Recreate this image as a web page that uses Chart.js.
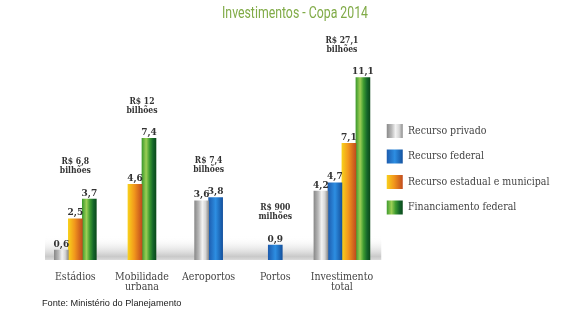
<!DOCTYPE html>
<html>
<head>
<meta charset="utf-8">
<script src="https://cdn.jsdelivr.net/npm/chart.js@4.4.1/dist/chart.umd.min.js"></script>
<style>
  body { margin: 0; background: #fff; }
  #wrap { width: 568px; height: 323px; position: relative; }
</style>
</head>
<body>
<div id="wrap"><canvas id="copaChart"></canvas></div>
<script>
// valores em R$ bilhões (Portos: R$ 900 milhões)
var categories = ['Estádios', ['Mobilidade', 'urbana'], 'Aeroportos', 'Portos', ['Investimento', 'total']];
var recursoPrivado = [0.6, null, 3.6, null, 4.2];
var recursoFederal = [null, null, 3.8, 0.9, 4.7];
var recursoEstadual = [2.5, 4.6, null, null, 7.1];
var financiamentoFederal = [3.7, 7.4, null, null, 11.1];
var seriesNames = ['Recurso privado', 'Recurso federal', 'Recurso estadual e municipal', 'Financiamento federal'];
var groupTotals = ['R$ 6,8', 'R$ 12', 'R$ 7,4', 'R$ 900', 'R$ 27,1'];
var groupUnits = ['bilhões', 'bilhões', 'bilhões', 'milhões', 'bilhões'];

// gradientes horizontais das barras (cinza, azul, laranja, verde)
var barStops = [
    [[0, '#8a8a8a'], [0.3, '#b9b9b9'], [0.55, '#f2f2f2'], [0.78, '#d6d6d6'], [1, '#8c8c8c']],
    [[0, '#1d5cae'], [0.5, '#2d8ee2'], [1, '#14529f']],
    [[0, '#f8d01c'], [0.45, '#f2971c'], [1, '#c24c1e']],
    [[0, '#3f9b2e'], [0.3, '#9ccf55'], [0.55, '#3c9a30'], [0.8, '#14652a'], [1, '#0b4a1a']]
];
var flatColors = ['#bdbdbd', '#2170c4', '#f0901c', '#2f8a2c'];

var serifFont = "'DejaVu Serif Condensed', 'DejaVu Serif', serif";

function makeGradient(ctx, x0, w, stops) {
    var g = ctx.createLinearGradient(x0, 0, x0 + w, 0);
    stops.forEach(function(s) { g.addColorStop(s[0], s[1]); });
    return g;
}

function fmt(v) {
    return v.toFixed(1).replace('.', ',');
}

var decorPlugin = {
    id: 'decor',
    beforeDraw: function(chart) {
        var legend = chart.legend;
        if (legend && legend.legendItems) {
            var x0 = legend.left + legend.options.labels.padding;
            legend.legendItems.forEach(function(item) {
                item.fillStyle = makeGradient(chart.ctx, x0, legend.options.labels.boxWidth, barStops[item.datasetIndex]);
            });
        }
    },
    beforeDatasetsDraw: function(chart) {
        var ctx = chart.ctx, area = chart.chartArea;
        // faixa cinza do "chão"
        var g = ctx.createLinearGradient(0, area.bottom - 24, 0, area.bottom);
        g.addColorStop(0, 'rgba(255,255,255,0)');
        g.addColorStop(0.85, '#c9c9c9');
        g.addColorStop(1, '#d9d9d9');
        ctx.save();
        ctx.fillStyle = g;
        ctx.fillRect(area.left + 3, area.bottom - 24, area.right - area.left + 3, 24);
        ctx.restore();

        chart.data.datasets.forEach(function(ds, di) {
            chart.getDatasetMeta(di).data.forEach(function(bar) {
                var grad = makeGradient(ctx, bar.x - bar.width / 2, bar.width, barStops[di]);
                bar.options = Object.assign({}, bar.options, {backgroundColor: grad});
            });
        });
    },
    afterDatasetsDraw: function(chart) {
        var ctx = chart.ctx;
        var tops = categories.map(function() { return Infinity; });
        ctx.save();
        ctx.fillStyle = '#333';
        ctx.textAlign = 'center';
        ctx.textBaseline = 'middle';
        ctx.font = 'bold 10px ' + serifFont;
        chart.data.datasets.forEach(function(ds, di) {
            chart.getDatasetMeta(di).data.forEach(function(bar, i) {
                var v = ds.data[i];
                if (v === null) return;
                ctx.fillText(fmt(v), bar.x, bar.y - 6);
                tops[i] = Math.min(tops[i], bar.y);
            });
        });
        // totais de cada grupo
        var xScale = chart.scales.x;
        ctx.font = 'bold 8.5px ' + serifFont;
        categories.forEach(function(c, i) {
            var x = xScale.getPixelForValue(i);
            var y = tops[i] - 28;
            ctx.fillText(groupTotals[i], x, y - 9);
            ctx.fillText(groupUnits[i], x, y);
        });
        ctx.restore();
    },
    afterDraw: function(chart) {
        // título em fonte estreita: largura ajustada a ~146px
        var ctx = chart.ctx;
        var text = 'Investimentos - Copa 2014';
        ctx.save();
        ctx.fillStyle = '#80ab47';
        ctx.textAlign = 'center';
        ctx.textBaseline = 'middle';
        ctx.font = "16px Roboto, 'Open Sans', sans-serif";
        var sx = 146 / ctx.measureText(text).width;
        ctx.translate(295, 13.5);
        ctx.scale(sx, 1);
        ctx.fillText(text, 0, 0);
        ctx.restore();
    }
};

var datasets = [recursoPrivado, recursoFederal, recursoEstadual, financiamentoFederal].map(function(values, i) {
    return {
        label: seriesNames[i],
        data: values,
        backgroundColor: flatColors[i],
        borderWidth: 0
    };
});

new Chart(document.getElementById('copaChart'), {
    type: 'bar',
    data: {
        labels: categories,
        datasets: datasets
    },
    options: {
        responsive: true,
        maintainAspectRatio: false,
        animation: false,
        events: [],
        barThickness: 14,
        skipNull: true,
        layout: {
            padding: {top: 30, left: 42, right: 8.5, bottom: 14.5}
        },
        scales: {
            x: {
                grid: {display: false, drawTicks: false},
                border: {display: false},
                ticks: {
                    color: '#444',
                    padding: 12,
                    maxRotation: 0,
                    minRotation: 0,
                    autoSkip: false,
                    font: {family: serifFont, size: 10.5, lineHeight: 0.96}
                },
                afterFit: function(scale) {
                    scale.height = 32;
                }
            },
            y: {
                display: false,
                min: 0,
                max: 14
            }
        },
        plugins: {
            tooltip: {enabled: false},
            title: {display: false},
            legend: {
                position: 'right',
                align: 'center',
                labels: {
                    boxWidth: 16,
                    boxHeight: 14,
                    padding: 11.5,
                    color: '#444',
                    font: {family: serifFont, size: 10.5}
                }
            },
            subtitle: {
                display: true,
                text: 'Fonte: Ministério do Planejamento',
                position: 'bottom',
                align: 'start',
                color: '#222',
                font: {family: "'Liberation Sans', Arial, sans-serif", size: 9.2, weight: 'normal'},
                padding: {top: 5.5, bottom: 0}
            }
        }
    },
    plugins: [decorPlugin]
});
</script>
</body>
</html>
